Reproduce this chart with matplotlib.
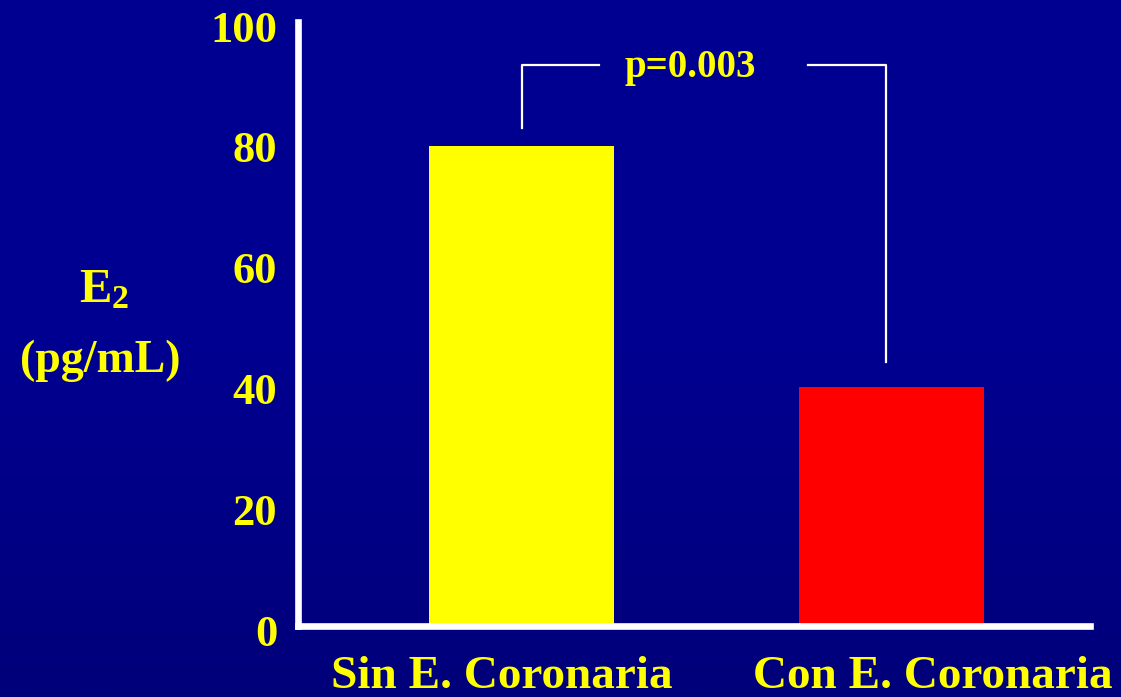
import numpy as np
import matplotlib.pyplot as plt
from matplotlib.colors import LinearSegmentedColormap
import matplotlib.transforms as mtransforms

groups = ["Sin E. Coronaria", "Con E. Coronaria"]
values = [79.5, 39.5]
colors = ["#ffff00", "#ff0000"]
yticks = [0, 20, 40, 60, 80, 100]
p_text = "p=0.003"

plt.rcParams['font.family'] = ['Liberation Serif', 'DejaVu Serif']
plt.rcParams['font.weight'] = 'bold'
plt.rcParams['mathtext.fontset'] = 'custom'
plt.rcParams['mathtext.rm'] = 'Liberation Serif:bold'
plt.rcParams['mathtext.bf'] = 'Liberation Serif:bold'
plt.rcParams['mathtext.it'] = 'Liberation Serif:bold'

W, H = 1121, 697
fig = plt.figure(figsize=(W / 100, H / 100), dpi=100)

# background gradient
bg = fig.add_axes([0, 0, 1, 1], zorder=-10)
cmap = LinearSegmentedColormap.from_list("bg", ["#000090", "#000090", "#00007a"])
bg.imshow(np.linspace(0, 1, 256).reshape(-1, 1), aspect='auto', cmap=cmap,
          extent=[0, 1, 0, 1], origin='upper')
bg.axis('off')

left, right, top, bottom = 298, 1090, 22, 626
ax = fig.add_axes([left / W, 1 - bottom / H, (right - left) / W, (bottom - top) / H])
ax.patch.set_alpha(0)

x = np.arange(len(groups))
ax.bar(x, values, width=0.5, color=colors, zorder=2)

ax.set_xlim(-0.604, 1.536)
ax.set_ylim(0, 100)
ax.set_yticks(yticks)
ax.set_yticklabels([str(t) for t in yticks], fontsize=32, color='#ffff00', fontweight='bold')
ax.tick_params(axis='y', length=0, pad=15)
ax.set_xticks([])
shift = mtransforms.ScaledTranslation(0, -0.04, fig.dpi_scale_trans)
for lab in ax.get_yticklabels():
    lab.set_transform(lab.get_transform() + shift)

for s in ['top', 'right']:
    ax.spines[s].set_visible(False)
for s in ['left', 'bottom']:
    ax.spines[s].set_color('white')
    ax.spines[s].set_linewidth(4.8)
    ax.spines[s].set_capstyle('projecting')

# category labels
trans = mtransforms.blended_transform_factory(ax.transData, ax.transAxes)
label_x = [-0.054, 1.111]
for lx, g in zip(label_x, groups):
    ax.text(lx, -0.103, g, transform=trans, ha='center', va='baseline',
            fontsize=34, color='#ffff00', fontweight='bold', clip_on=False)

# significance bracket
bx0, bx1 = 0.0, 0.985
ax.plot([bx0, bx0, 0.21], [82.5, 92.9, 92.9], color='white', lw=1.6, zorder=3)
ax.plot([0.775, bx1, bx1], [92.9, 92.9, 43.7], color='white', lw=1.6, zorder=3)
ax.text(0.455, 92.4, p_text, ha='center', va='center', fontsize=28,
        color='#ffff00', fontweight='bold')

# y label
fig.text(104 / W, 1 - 302 / H, r"E$_2$", ha='center', va='baseline',
         fontsize=35, color='#ffff00', fontweight='bold')
fig.text(100 / W, 1 - 372 / H, "(pg/mL)", ha='center', va='baseline',
         fontsize=33, color='#ffff00', fontweight='bold')

fig.savefig("out.png", dpi=100, facecolor="#000090")
